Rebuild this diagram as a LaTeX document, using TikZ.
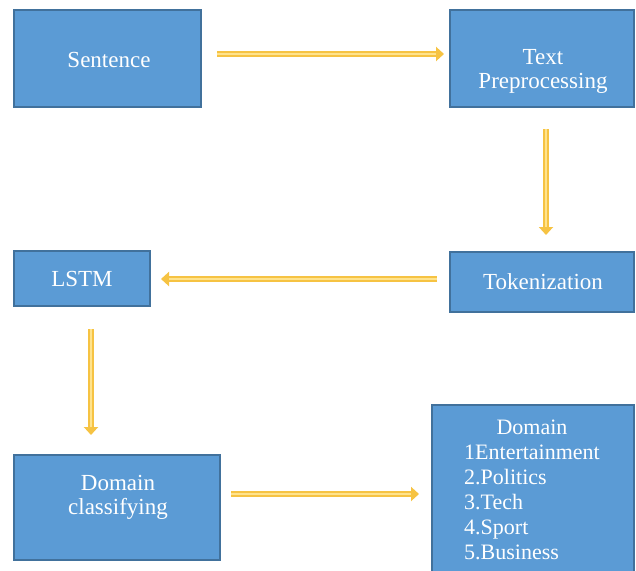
\documentclass[tikz,border=0pt]{standalone}
\usepackage{fontspec}
\setmainfont{Liberation Serif}
\usetikzlibrary{arrows.meta}
\definecolor{boxfill}{HTML}{5B9BD5}
\definecolor{boxline}{HTML}{41719C}
\definecolor{arrout}{HTML}{F6C343}
\definecolor{arrin}{HTML}{FFE38C}
\tikzset{
  box/.style={draw=boxline, fill=boxfill, line width=2pt, inner sep=0pt},
  lbl/.style={text=white, align=center, inner sep=0pt, font=\fontsize{23}{24}\selectfont},
  flowout/.style={draw=arrout, line width=6pt, -{Triangle[length=8pt,width=14pt]}},
  flowin/.style={draw=arrin, line width=2.2pt},
}
\begin{document}
\begin{tikzpicture}[x=1pt,y=1pt]
\useasboundingbox (0,0) rectangle (636,-570);
\node[box, minimum width=187, minimum height=97] (sent) at (107.5,-58.5) {};
\node[lbl] (sentT) at (109,-60) {Sentence};
\node[box, minimum width=184, minimum height=97] (tp) at (542,-58.5) {};
\node[lbl] (tpT) at (543,-71) {Text\\Preprocessing};
\node[box, minimum width=184, minimum height=60] (tok) at (542,-282) {};
\node[lbl] (tokT) at (543,-282) {Tokenization};
\node[box, minimum width=136, minimum height=55] (lstm) at (82,-278.5) {};
\node[lbl] (lstmT) at (82,-279) {LSTM};
\node[box, minimum width=206, minimum height=105] (dc) at (117,-507.5) {};
\node[lbl] (dcT) at (118,-497) {Domain\\classifying};
\node[box, minimum width=202, minimum height=170] (dom) at (533,-490) {};
\node[lbl, font=\fontsize{22}{25}\selectfont] (domT) at (532,-492)
  {\begin{tabular}{@{}l@{}}\multicolumn{1}{@{}c@{}}{Domain}\\1Entertainment\\2.Politics\\3.Tech\\4.Sport\\5.Business\end{tabular}};
% arrows
\coordinate (a1s) at ([xshift=15pt,yshift=4.5pt]sent.east);
\coordinate (a1e) at ([xshift=-5pt,yshift=4.5pt]tp.west);
\draw[flowout] (a1s) -- (a1e);
\draw[flowin] (a1s) -- ([xshift=-8pt]a1e);
\coordinate (a2s) at ([xshift=4pt,yshift=-21pt]tp.south);
\coordinate (a2e) at ([xshift=4pt,yshift=16pt]tok.north);
\draw[flowout] (a2s) -- (a2e);
\draw[flowin] (a2s) -- ([yshift=8pt]a2e);
\coordinate (a3s) at ([xshift=-12pt,yshift=3pt]tok.west);
\coordinate (a3e) at ([xshift=10pt,yshift=3pt]lstm.east |- tok.west);
\draw[flowout] (a3s) -- (a3e);
\draw[flowin] (a3s) -- ([xshift=8pt]a3e);
\coordinate (a4s) at ([xshift=9pt,yshift=-22pt]lstm.south);
\coordinate (a4e) at ([xshift=-26pt,yshift=19pt]dc.north);
\draw[flowout] (a4s) -- (a4s |- a4e);
\draw[flowin] (a4s) -- ([yshift=8pt]a4s |- a4e);
\coordinate (a5s) at ([xshift=10pt,yshift=13.5pt]dc.east);
\coordinate (a5e) at ([xshift=-12pt,yshift=13.5pt]dc.east -| dom.west);
\draw[flowout] (a5s) -- (a5e);
\draw[flowin] (a5s) -- ([xshift=-8pt]a5e);
\end{tikzpicture}
\end{document}
